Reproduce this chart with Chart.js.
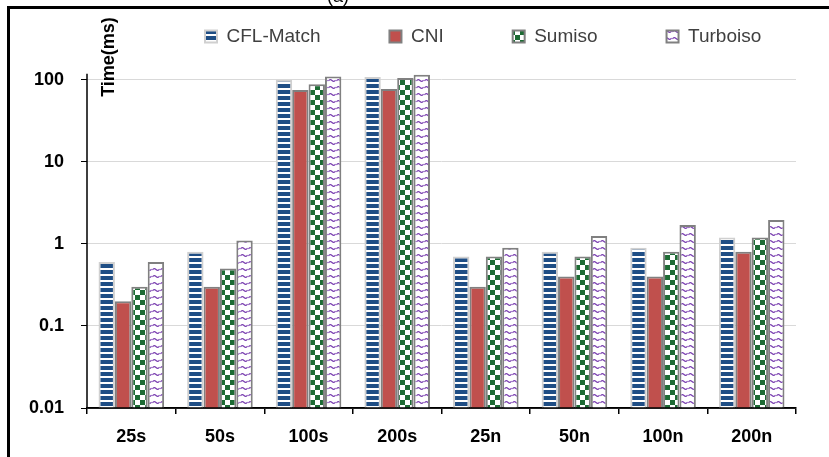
<!DOCTYPE html>
<html>
<head>
<meta charset="utf-8">
<script src="https://cdn.jsdelivr.net/npm/chart.js@4/dist/chart.umd.min.js"></script>
<style>
  html, body { margin: 0; padding: 0; background: #fff; }
  #wrap { position: relative; width: 829px; height: 457px; overflow: hidden; }
  #frame { position: absolute; left: 7px; top: 6px; right: -10px; bottom: -10px;
           border-top: 3px solid #000; border-left: 3px solid #000; pointer-events: none; }
  #cap { position: absolute; left: 327px; top: -14px; font: 18px "Liberation Sans", Arial, sans-serif; color: #000; }
</style>
</head>
<body>
<div id="wrap">
  <canvas id="c" width="829" height="457"></canvas>
  <div id="frame"></div>
  <div id="cap">(a)</div>
</div>
<script>
// ---- data ----
const categories = ['25s', '50s', '100s', '200s', '25n', '50n', '100n', '200n'];
const seriesNames = ['CFL-Match', 'CNI', 'Sumiso', 'Turboiso'];
const cflMatch = [0.6, 0.8, 100, 108, 0.7, 0.8, 0.9, 1.2];
const cni      = [0.2, 0.3, 75, 77, 0.3, 0.4, 0.4, 0.8];
const sumiso   = [0.3, 0.5, 88, 105, 0.7, 0.7, 0.8, 1.2];
const turboiso = [0.6, 1.1, 110, 115, 0.9, 1.25, 1.7, 1.95];
const yTickValues = [0.01, 0.1, 1, 10, 100];
const yTickLabels = ['0.01', '0.1', '1', '10', '100'];
const yTitle = 'Time(ms)';

// ---- patterns ----
function makePattern(w, h, draw) {
  const c = document.createElement('canvas');
  c.width = w; c.height = h;
  const g = c.getContext('2d');
  draw(g, w, h);
  return g.createPattern(c, 'repeat');
}
const cv = document.getElementById('c');
const stripes = makePattern(6, 6, (g, w, h) => {
  g.fillStyle = '#fff'; g.fillRect(0, 0, w, h);
  g.fillStyle = '#1f4e85'; g.fillRect(0, 0, w, 4);
});
const checker = makePattern(10, 10, (g, w, h) => {
  g.fillStyle = '#fff'; g.fillRect(0, 0, w, h);
  g.fillStyle = '#1d6b34'; g.fillRect(0, 0, 5, 5); g.fillRect(5, 5, 5, 5);
});
const waves = makePattern(8, 7, (g, w, h) => {
  g.fillStyle = '#fff'; g.fillRect(0, 0, w, h);
  g.strokeStyle = '#7a3fb0'; g.lineWidth = 1.1;
  g.beginPath();
  g.moveTo(0.5, 4);
  g.quadraticCurveTo(2, 1.5, 4, 3.5);
  g.quadraticCurveTo(6, 5.5, 7.5, 3);
  g.stroke();
});

const FONT = '"Liberation Sans", Arial, sans-serif';

const extras = {
  id: 'extras',
  afterLayout(chart) {
    const lg = chart.legend;
    if (!lg) return;
    const pad = chart.options.plugins.legend.labels.padding;
    lg.top = 27 - pad;
    lg.bottom = 140;
    lg.left = 205 - pad;
    lg.right = 1300;
  },
  afterDraw(chart) {
    const ctx = chart.ctx;
    const y = chart.scales.y;
    const area = chart.chartArea;
    ctx.save();
    ctx.strokeStyle = '#000';
    ctx.lineWidth = 1.5;
    ctx.beginPath();
    ctx.moveTo(area.left, y.getPixelForValue(100) - 6);
    ctx.lineTo(area.left, area.bottom);
    ctx.moveTo(area.left, area.bottom);
    ctx.lineTo(area.right, area.bottom);
    ctx.stroke();
    ctx.translate(109, 57);
    ctx.rotate(-Math.PI / 2);
    ctx.font = 'bold 18px ' + FONT;
    ctx.fillStyle = '#000';
    ctx.textAlign = 'center';
    ctx.textBaseline = 'middle';
    ctx.fillText(yTitle, 0, 0);
    ctx.restore();
  }
};

new Chart(cv, {
  type: 'bar',
  data: {
    labels: categories,
    datasets: [
      { label: seriesNames[0], data: cflMatch, backgroundColor: stripes, borderColor: '#d0d0d0', borderWidth: 2 },
      { label: seriesNames[1], data: cni, backgroundColor: '#c0504d', borderColor: '#808080', borderWidth: 2 },
      { label: seriesNames[2], data: sumiso, backgroundColor: checker, borderColor: '#808080', borderWidth: 2 },
      { label: seriesNames[3], data: turboiso, backgroundColor: waves, borderColor: '#808080', borderWidth: 2 }
    ]
  },
  options: {
    responsive: false,
    animation: false,
    devicePixelRatio: 1,
    categoryPercentage: 0.74,
    barPercentage: 1.0,
    layout: { padding: { top: 12, right: 33, left: 0, bottom: 0 } },
    plugins: {
      tooltip: { enabled: false },
      legend: {
        position: 'top',
        align: 'start',
        maxHeight: 1,
        labels: {
          boxWidth: 12, boxHeight: 12, padding: 69,
          color: '#404040',
          font: { family: FONT, size: 19 }
        }
      }
    },
    scales: {
      x: {
        type: 'category',
        afterFit(s) { s.height = 49; },
        grid: { offset: true, drawOnChartArea: false, tickLength: 6, tickColor: '#000', lineWidth: 1.5 },
        border: { color: '#000', width: 1.5 },
        ticks: { color: '#000', padding: 12, font: { family: FONT, size: 18, weight: 'bold' } }
      },
      y: {
        type: 'logarithmic',
        min: 0.01,
        max: 430,
        afterFit(s) { s.width = 87; },
        afterBuildTicks(s) { s.ticks = yTickValues.map(v => ({ value: v })); },
        grid: { color: '#d9d9d9', lineWidth: 1, tickColor: '#000', tickLength: 6 },
        border: { display: false },
        ticks: {
          color: '#000', padding: 17,
          font: { family: FONT, size: 18, weight: 'bold' },
          callback(v) { const i = yTickValues.indexOf(v); return i >= 0 ? yTickLabels[i] : ''; }
        }
      }
    }
  },
  plugins: [extras]
});
</script>
</body>
</html>
